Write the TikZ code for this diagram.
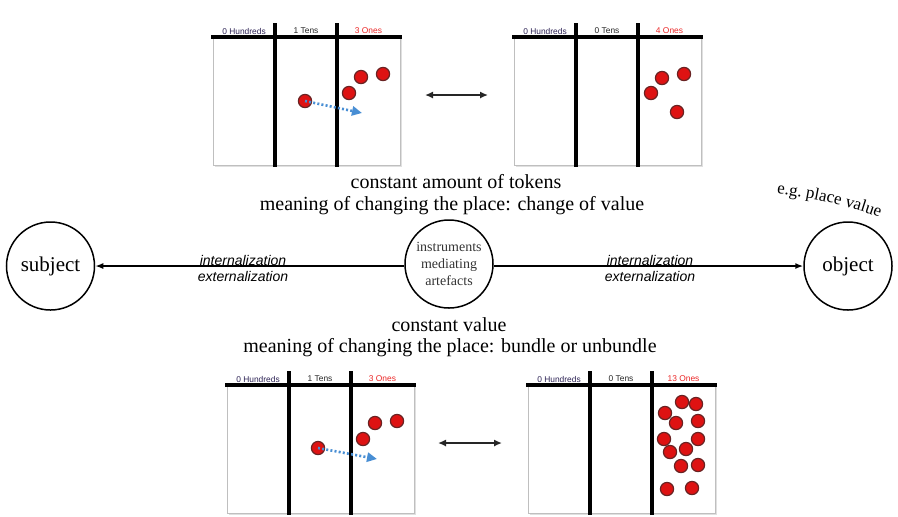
\documentclass[tikz,border=0pt]{standalone}
\usepackage{fontspec}
\setmainfont{Liberation Serif}
\setsansfont{Liberation Sans}
\usepackage{tikz}
\usetikzlibrary{arrows.meta,decorations.text}

\definecolor{tokenred}{RGB}{222,18,18}
\definecolor{tokenrim}{RGB}{105,35,35}
\definecolor{movblue}{RGB}{72,142,212}
\definecolor{hundcol}{RGB}{45,35,85}
\definecolor{onescol}{RGB}{235,40,40}

% place value board: origin, name, hundreds, tens, ones
\newcommand{\pvboard}[5]{
	\begin{scope}[shift={#1}]
		\fill[boardshadow] (2,14) rectangle (189,142);
		\draw[boardframe,fill=white] (0,12) rectangle (187,140);
		\node[place,text=hundcol] (#2-h) at (31,6) {#3};
		\node[place,text=black!85] (#2-t) at (93,6) {#4};
		\node[place,text=onescol] (#2-o) at (155.5,6) {#5};
		\draw[bar] (0,12) -- (187,12);
		\draw[bar] (62,0) -- (62,140);
		\draw[bar] (124,0) -- (124,140);
	\end{scope}
}

\begin{document}
\begin{tikzpicture}[x=0.5pt,y=-0.5pt,
	boardshadow/.style={fill=black!12},
	boardframe/.style={draw=black!25,line width=0.4pt},
	bar/.style={line width=1.7pt,line cap=rect},
	place/.style={font=\sffamily\fontsize{4.2}{5}\selectfont,inner sep=0pt},
	token/.style={circle,fill=tokenred,draw=tokenrim,line width=0.6pt,minimum size=6.6pt,inner sep=0pt},
	move/.style={movblue,line width=1.3pt,dash pattern=on 1pt off 1.1pt,-{Triangle[length=5pt,width=4.6pt]}},
	swap/.style={black!85,line width=1pt,{Latex[length=4pt,width=3.6pt]}-{Latex[length=4pt,width=3.6pt]}},
	agent/.style={circle,draw,line width=0.75pt,minimum size=44pt,inner sep=0pt,font=\fontsize{10.5}{12}\selectfont},
	flow/.style={line width=0.75pt,-{Latex[length=4pt,width=3pt]}},
	caption/.style={font=\fontsize{10}{12}\selectfont,inner sep=0pt},
	mode/.style={font=\sffamily\itshape\fontsize{7}{8}\selectfont,inner sep=0pt},
	]
	\useasboundingbox (0,0) rectangle (898,516);

	% boards before and after the move
	\pvboard{(213,25)}{tl}{0 Hundreds}{1 Tens}{3 Ones}
	\pvboard{(514,25)}{tr}{0 Hundreds}{0 Tens}{4 Ones}
	\pvboard{(227,373)}{bl}{0 Hundreds}{1 Tens}{3 Ones}
	\pvboard{(528,373)}{br}{0 Hundreds}{0 Tens}{13 Ones}

	\foreach \p [count=\i] in {(305,101),(361,77),(383,74),(349,93)}
		\node[token] (tl\i) at \p {};
	\foreach \p [count=\i] in {(662,78),(684,74),(651,93),(677,112)}
		\node[token] (tr\i) at \p {};
	\foreach \p [count=\i] in {(318,448),(375,423),(397,421),(363,439)}
		\node[token] (bl\i) at \p {};
	\foreach \p [count=\i] in {(682,402),(696,404),(665,413),(676,423),(698,421),(664,439),(698,439),(670,452),(686,449),(681,466),(698,465),(667,489),(692,488)}
		\node[token] (br\i) at \p {};

	\coordinate (tlgo) at (362,113);
	\coordinate (blgo) at (377,459);
	\draw[move] (tl1.center) -- (tlgo);
	\draw[move] (bl1.center) -- (blgo);

	\coordinate (topa) at (425,95);
	\coordinate (topb) at (488,95);
	\coordinate (bota) at (438,443);
	\coordinate (botb) at (502,443);
	\draw[swap] (topa) -- (topb);
	\draw[swap] (bota) -- (botb);

	% activity triangle flattened to a line
	\node[agent] (subject) at (50.5,266) {subject};
	\node[agent,font=\fontsize{7}{8.3}\selectfont,text=black!80,align=center] (tool) at (449,264) {instruments\\mediating\\artefacts};
	\node[agent] (object) at (848,266) {object};
	\draw[flow] (tool.west |- 0,266) -- (subject);
	\draw[flow] (tool.east |- 0,266) -- (object);

	\node[mode] (inl) at (243,260) {internalization};
	\node[mode] (exl) at (243,276) {externalization};
	\node[mode] (inr) at (650,260) {internalization};
	\node[mode] (exr) at (650,276) {externalization};

	\node[caption] (c1) at (456,182) {constant amount of tokens};
	\node[caption] (c2) at (452,206) {meaning of changing the place: change of value};
	\node[caption] (c3) at (449,325) {constant value};
	\node[caption] (c4) at (450,348) {meaning of changing the place: bundle or unbundle};

	\path[decorate,decoration={text along path,text align=center,
		text={|\fontsize{8.5}{10}\selectfont|e.g. place value}}]
		(770,193) .. controls (805,196) and (845,204) .. (886,220);
\end{tikzpicture}
\end{document}
